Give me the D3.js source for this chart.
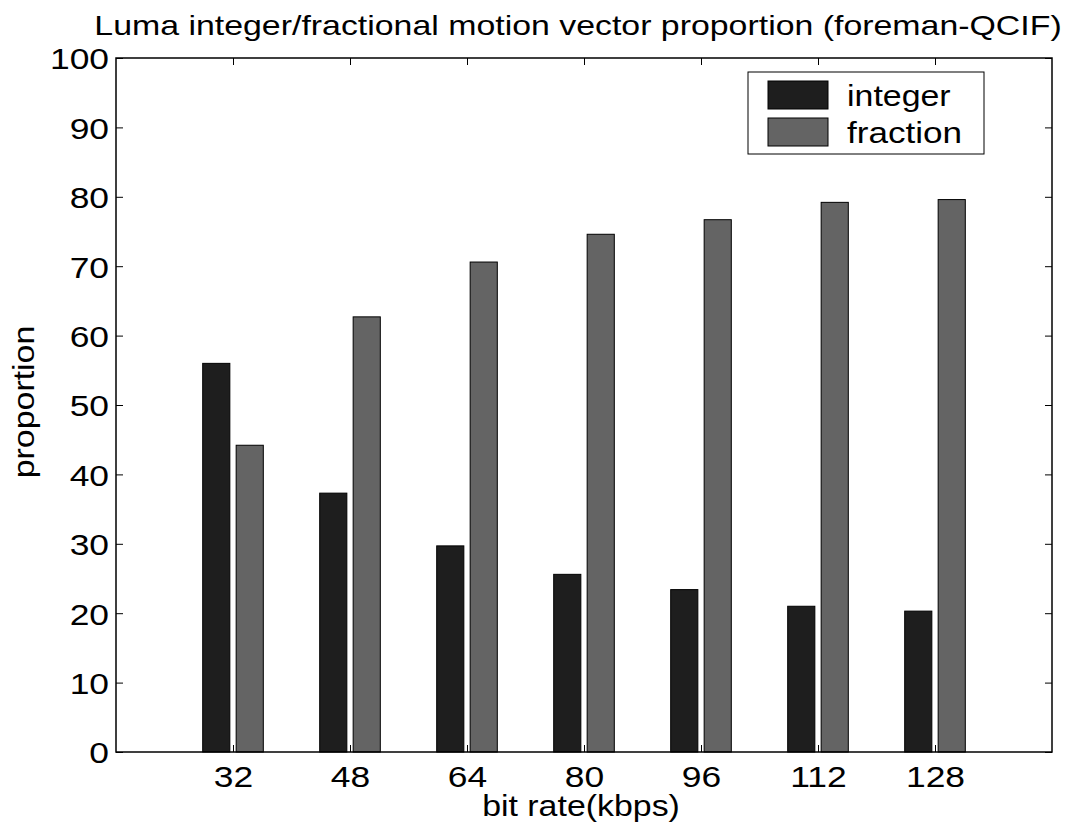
<!DOCTYPE html>
<html>
<head>
<meta charset="utf-8">
<script src="https://cdn.jsdelivr.net/npm/d3@7"></script>
<style>
  body { margin: 0; background: #fff; }
  svg text { font-family: "Liberation Sans", Arial, sans-serif; fill: #000; }
</style>
</head>
<body>
<svg id="chart" width="1079" height="832"></svg>
<script>
const bitRates = [32, 48, 64, 80, 96, 112, 128];
const integerPct = [56.0, 37.3, 29.7, 25.6, 23.4, 21.0, 20.3];
const fractionPct = [44.2, 62.7, 70.6, 74.6, 76.7, 79.2, 79.6];
const yTicks = [0, 10, 20, 30, 40, 50, 60, 70, 80, 90, 100];
const seriesNames = ["integer", "fraction"];
const seriesColors = ["#1e1e1e", "#646464"];

const svg = d3.select("#chart");
const plotLeft = 116, plotRight = 1052, plotTop = 58, plotBottom = 752;
const fontSize = 30;
const tickStretch = 1.18;   // matlab text renders wider than Liberation
const labelStretch = 1.13;

const x = d3.scaleLinear().domain([16, 144]).range([plotLeft, plotRight]);
const y = d3.scaleLinear().domain([0, 100]).range([plotBottom, plotTop]);

const step = x(48) - x(32);
const barW = step * 0.232;
const offset = step * 0.143;

// bars
const series = [integerPct, fractionPct];
series.forEach((vals, si) => {
    svg.append("g")
        .selectAll("rect")
        .data(bitRates.map((b, i) => ({ b: b, v: vals[i] })))
        .enter()
        .append("rect")
        .attr("x", d => x(d.b) + (si === 0 ? -offset : offset) - barW / 2)
        .attr("y", d => y(d.v))
        .attr("width", barW)
        .attr("height", d => y(0) - y(d.v))
        .attr("fill", seriesColors[si])
        .attr("stroke", "#000")
        .attr("stroke-width", 1);
});

// axes with inward ticks (matlab style)
const tickLen = 7;
const xAxis = svg.append("g")
    .attr("transform", `translate(0,${plotBottom})`)
    .call(d3.axisBottom(x).tickValues(bitRates).tickSize(-tickLen).tickSizeOuter(0));
const xTop = svg.append("g")
    .attr("transform", `translate(0,${plotTop})`)
    .call(d3.axisTop(x).tickValues(bitRates).tickSize(-tickLen).tickFormat("").tickSizeOuter(0));
const yAxis = svg.append("g")
    .attr("transform", `translate(${plotLeft},0)`)
    .call(d3.axisLeft(y).tickValues(yTicks).tickSize(-tickLen).tickSizeOuter(0));
const yRight = svg.append("g")
    .attr("transform", `translate(${plotRight},0)`)
    .call(d3.axisRight(y).tickValues(yTicks).tickSize(-tickLen).tickFormat("").tickSizeOuter(0));

[xAxis, xTop, yAxis, yRight].forEach(g => {
    g.select(".domain").remove();
    g.selectAll("line").attr("stroke", "#000").attr("stroke-width", 1);
    g.selectAll("text")
        .style("font-family", '"Liberation Sans", Arial, sans-serif')
        .style("font-size", fontSize + "px")
        .attr("fill", "#000");
});
xAxis.selectAll("text")
    .attr("x", 0).attr("y", 0).attr("dy", null)
    .attr("transform", `translate(0,35) scale(${tickStretch},1)`);
yAxis.selectAll("text")
    .attr("x", 0).attr("dy", "0.36em")
    .attr("transform", `translate(-7,0) scale(${tickStretch},1)`);

// box
svg.append("rect")
    .attr("x", plotLeft).attr("y", plotTop)
    .attr("width", plotRight - plotLeft).attr("height", plotBottom - plotTop)
    .attr("fill", "none").attr("stroke", "#000").attr("stroke-width", 1.5);

// title and labels
svg.append("text")
    .attr("transform", `translate(${(plotLeft + plotRight) / 2 - 6},35) scale(1.21,1)`)
    .attr("text-anchor", "middle")
    .style("font-size", "28px")
    .text("Luma integer/fractional motion vector proportion (foreman-QCIF)");

svg.append("text")
    .attr("transform", `translate(${(plotLeft + plotRight) / 2 - 3},816) scale(${labelStretch},1)`)
    .attr("text-anchor", "middle")
    .style("font-size", fontSize + "px")
    .text("bit rate(kbps)");

svg.append("text")
    .attr("transform", `translate(34,${(plotTop + plotBottom) / 2 - 3}) rotate(-90) scale(${labelStretch},1)`)
    .attr("text-anchor", "middle")
    .style("font-size", fontSize + "px")
    .text("proportion");

// legend
const legend = svg.append("g");
legend.append("rect")
    .attr("x", 748).attr("y", 72)
    .attr("width", 236).attr("height", 82)
    .attr("fill", "#fff").attr("stroke", "#000").attr("stroke-width", 1);
seriesNames.forEach((name, i) => {
    legend.append("rect")
        .attr("x", 768).attr("y", 81 + i * 37)
        .attr("width", 60).attr("height", 28)
        .attr("fill", seriesColors[i]).attr("stroke", "#000").attr("stroke-width", 1);
    legend.append("text")
        .attr("transform", `translate(847,${106 + i * 37}) scale(${i === 0 ? 1.13 : 1.17},1)`)
        .style("font-size", fontSize + "px")
        .text(name);
});
</script>
</body>
</html>
